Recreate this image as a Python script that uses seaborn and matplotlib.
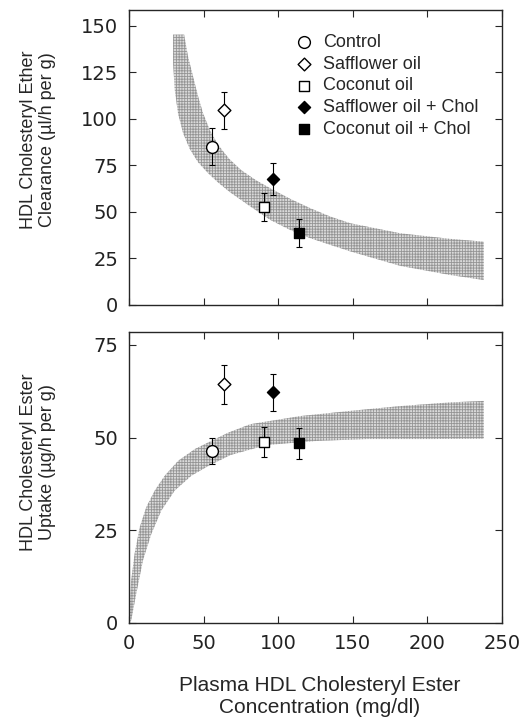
import numpy as np
import pandas as pd
import matplotlib
matplotlib.use("Agg")
import matplotlib.pyplot as plt
import seaborn as sns

# values
groups = ["Control", "Safflower oil", "Coconut oil", "Safflower oil + Chol", "Coconut oil + Chol"]
conc = [55.4, 63.8, 90.1, 96.2, 113.8]
clearance = [85.1, 104.5, 52.5, 67.6, 38.9]
clearance_err = [10.0, 10.0, 7.5, 8.5, 7.5]
uptake = [46.4, 64.4, 48.8, 62.3, 48.4]
uptake_err = [3.5, 5.3, 4.0, 5.0, 4.3]

# shaded band edges (clearance panel)
clr_upper_x = [29.4, 36.8, 39.4, 42.8, 46.2, 49.5, 54.0, 59.6, 67.0, 75.0, 85.0, 95.0, 108.0, 121.4, 134.9, 148.3, 181.9, 215.5, 238.0]
clr_upper_y = [145.2, 145.2, 133.5, 122.7, 112.0, 103.0, 94.0, 86.0, 78.5, 72.5, 67.0, 62.5, 57.0, 52.0, 47.5, 43.9, 38.5, 35.5, 34.0]
clr_lower_x = [29.4, 29.4, 30.5, 32.7, 36.1, 40.6, 46.2, 52.9, 60.0, 67.7, 81.1, 94.6, 108.0, 121.4, 134.9, 148.3, 181.9, 215.5, 238.0]
clr_lower_y = [145.2, 130.0, 115.6, 103.0, 92.3, 83.8, 76.6, 70.8, 65.5, 60.5, 53.0, 45.7, 40.3, 35.9, 32.3, 28.8, 21.0, 16.1, 13.4]

# shaded band edges (uptake panel)
upt_upper_x = [0.0, 0.3, 1.3, 3.6, 7.0, 11.4, 17.1, 23.8, 32.7, 44.0, 55.1, 66.3, 81.1, 114.7, 148.3, 181.9, 215.5, 238.0]
upt_upper_y = [0.0, 4.3, 11.5, 18.7, 25.8, 31.2, 35.7, 39.7, 43.7, 46.9, 49.1, 51.3, 53.6, 55.8, 57.2, 58.5, 59.5, 59.9]
upt_lower_x = [0.0, 1.3, 4.7, 9.2, 14.8, 21.5, 30.5, 41.7, 52.9, 68.0, 92.3, 126.0, 159.5, 204.3, 238.0]
upt_lower_y = [0.0, 0.7, 7.9, 16.9, 24.0, 30.3, 35.7, 39.7, 42.3, 45.3, 48.0, 49.1, 49.6, 49.6, 49.7]

xticks = [0, 50, 100, 150, 200, 250]
clr_yticks = [0, 25, 50, 75, 100, 125, 150]
upt_yticks = [0, 25, 50, 75]

markers = {"Control": "o", "Safflower oil": "D", "Coconut oil": "s",
           "Safflower oil + Chol": "D", "Coconut oil + Chol": "s"}
faces = {"Control": "white", "Safflower oil": "white", "Coconut oil": "white",
         "Safflower oil + Chol": "black", "Coconut oil + Chol": "black"}
msizes = {"Control": 72, "Safflower oil": 42, "Coconut oil": 54,
          "Safflower oil + Chol": 38, "Coconut oil + Chol": 46}

df = pd.DataFrame({"group": groups, "conc": conc, "clearance": clearance,
                   "clearance_err": clearance_err, "uptake": uptake, "uptake_err": uptake_err})

sns.set_style("ticks")
plt.rcParams["font.family"] = ["Liberation Sans", "DejaVu Sans"]
plt.rcParams["hatch.linewidth"] = 0.6
plt.rcParams["axes.linewidth"] = 1.0

fig = plt.figure(figsize=(5.22, 7.21), dpi=100)
ax1 = fig.add_axes([0.2477, 0.577, 0.7134, 0.4091])
ax2 = fig.add_axes([0.2477, 0.1363, 0.7134, 0.4037])

band_kw = dict(facecolor="#dadada", edgecolor="#959595", hatch="++++++", linewidth=0, zorder=1)
ax1.fill(clr_upper_x + clr_lower_x[::-1], clr_upper_y + clr_lower_y[::-1], **band_kw)
ax2.fill(upt_upper_x + upt_lower_x[::-1], upt_upper_y + upt_lower_y[::-1], **band_kw)


def draw_points(ax, ycol, ecol, legend):
    ax.errorbar(df["conc"], df[ycol], yerr=df[ecol], fmt="none", ecolor="black",
                elinewidth=0.8, capsize=2, capthick=0.8, zorder=2)
    for g in groups:
        sub = df[df["group"] == g]
        sns.scatterplot(data=sub, x="conc", y=ycol, marker=markers[g], s=msizes[g],
                        color=faces[g], edgecolor="black", linewidth=1.0, zorder=3,
                        label=g if legend else None, legend=legend, ax=ax)


draw_points(ax1, "clearance", "clearance_err", True)
draw_points(ax2, "uptake", "uptake_err", False)

for ax, yt, ylim in [(ax1, clr_yticks, 158.4), (ax2, upt_yticks, 78.6)]:
    ax.set_xlim(0, 250)
    ax.set_ylim(0, ylim)
    ax.set_xticks(xticks)
    ax.set_yticks(yt)
    ax.tick_params(direction="in", top=True, right=True, length=5, width=0.8,
                   labelsize=14, pad=8)
    for lab in ax.get_xticklabels() + ax.get_yticklabels():
        lab.set_family("DejaVu Sans")
        lab.set_color("#222222")
    for sp in ax.spines.values():
        sp.set_visible(True)

ax1.tick_params(labelbottom=False)
ax1.set_xlabel("")

ax1.set_ylabel("HDL Cholesteryl Ether\nClearance (\u00b5l/h per g)", fontsize=13,
               linespacing=1.15, va="center")
ax1.yaxis.set_label_coords(-0.246, 0.559)
ax2.set_ylabel("HDL Cholesteryl Ester\nUptake (\u00b5g/h per g)", fontsize=13,
               linespacing=1.15, va="center")
ax2.yaxis.set_label_coords(-0.246, 0.553)
ax2.set_xlabel("Plasma HDL Cholesteryl Ester\nConcentration (mg/dl)", fontsize=15,
               linespacing=1.15, va="center")
ax2.xaxis.set_label_coords(0.512, -0.2536)

ax1.legend(loc="upper left", bbox_to_anchor=(0.4256, 0.9435), frameon=False,
           fontsize=13, handlelength=1.0, handletextpad=0.55, labelspacing=0.26,
           borderpad=0.4, borderaxespad=0)

fig.savefig("out.png", dpi=100)
